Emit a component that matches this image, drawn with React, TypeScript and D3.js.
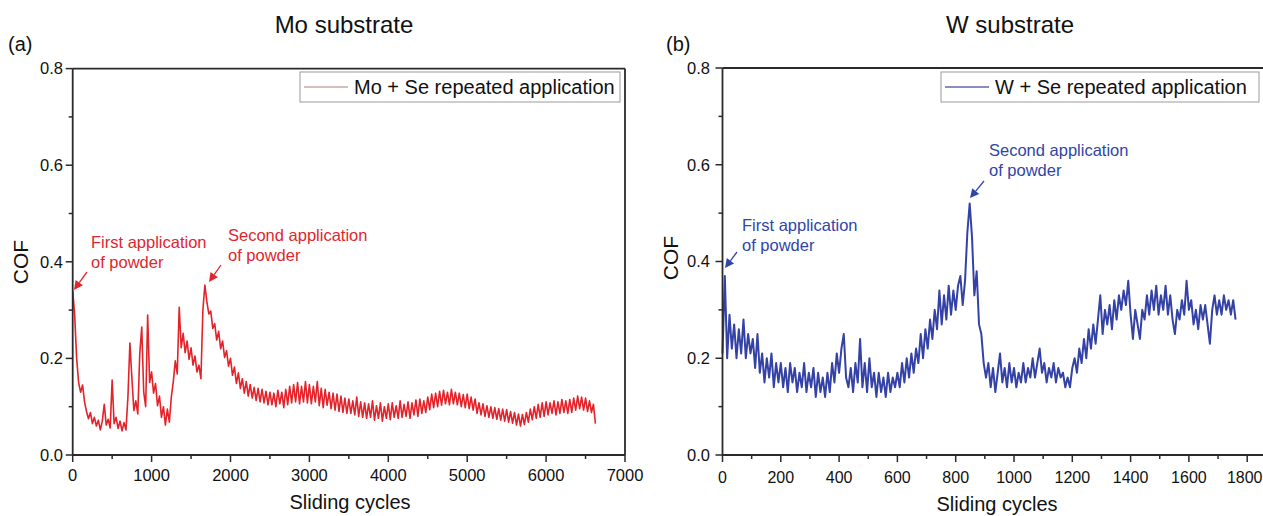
import React from 'react';
import * as d3 from 'd3';

// ---------- data ----------
const moCycleStep = 25; // cycles between samples, Mo substrate
const moCOF = [
  // 0 - 475
  0.34, 0.29, 0.2, 0.15, 0.13, 0.145, 0.11, 0.09, 0.075, 0.088, 0.065, 0.078, 0.06, 0.072, 0.052, 0.07, 0.105, 0.062, 0.074, 0.056,
  // 500 - 975
  0.155, 0.065, 0.078, 0.055, 0.07, 0.05, 0.067, 0.052, 0.12, 0.232, 0.16, 0.092, 0.112, 0.085, 0.21, 0.265, 0.13, 0.1, 0.29, 0.15,
  // 1000 - 1475
  0.172, 0.128, 0.148, 0.102, 0.122, 0.078, 0.1, 0.062, 0.095, 0.068, 0.12, 0.152, 0.195, 0.168, 0.306, 0.222, 0.252, 0.212, 0.236, 0.198,
  // 1500 - 1975
  0.222, 0.186, 0.205, 0.172, 0.186, 0.158, 0.3, 0.352, 0.318, 0.292, 0.298, 0.262, 0.272, 0.238, 0.256, 0.22, 0.236, 0.202, 0.216, 0.184,
  // 2000 - 2475
  0.2, 0.165, 0.182, 0.148, 0.17, 0.138, 0.158, 0.128, 0.152, 0.122, 0.146, 0.118, 0.14, 0.113, 0.138, 0.11, 0.136, 0.108, 0.132, 0.104,
  // 2500 - 2975
  0.13, 0.104, 0.128, 0.1, 0.134, 0.106, 0.13, 0.098, 0.136, 0.104, 0.142, 0.108, 0.146, 0.11, 0.15, 0.106, 0.142, 0.11, 0.152, 0.108,
  // 3000 - 3475
  0.146, 0.106, 0.142, 0.11, 0.152, 0.102, 0.138, 0.098, 0.136, 0.103, 0.13, 0.096, 0.128, 0.093, 0.126, 0.09, 0.122, 0.088, 0.118, 0.086,
  // 3500 - 3975
  0.116, 0.086, 0.112, 0.083, 0.12, 0.08, 0.11, 0.078, 0.108, 0.076, 0.106, 0.078, 0.112, 0.072, 0.102, 0.076, 0.108, 0.07, 0.1, 0.076,
  // 4000 - 4475
  0.106, 0.073, 0.108, 0.078, 0.102, 0.076, 0.112, 0.078, 0.105, 0.08, 0.11, 0.076, 0.108, 0.083, 0.114, 0.08, 0.116, 0.086, 0.112, 0.088,
  // 4500 - 4975
  0.12, 0.094, 0.126, 0.098, 0.128, 0.1, 0.132, 0.103, 0.134, 0.106, 0.13, 0.104, 0.136, 0.106, 0.13, 0.104, 0.128, 0.1, 0.125, 0.098,
  // 5000 - 5475
  0.126, 0.096, 0.12, 0.093, 0.116, 0.086, 0.108, 0.083, 0.106, 0.08, 0.102, 0.078, 0.1, 0.076, 0.098, 0.074, 0.096, 0.072, 0.095, 0.07,
  // 5500 - 5975
  0.094, 0.068, 0.09, 0.066, 0.088, 0.062, 0.085, 0.06, 0.084, 0.063, 0.088, 0.068, 0.095, 0.073, 0.1, 0.076, 0.105, 0.078, 0.108, 0.08,
  // 6000 - 6475
  0.11, 0.083, 0.108, 0.086, 0.112, 0.083, 0.11, 0.086, 0.115, 0.088, 0.112, 0.086, 0.115, 0.088, 0.118, 0.093, 0.122, 0.096, 0.12, 0.093,
  // 6500 - 6625
  0.118, 0.09, 0.112, 0.088, 0.105, 0.065,
];

const wCycleStep = 8; // cycles between samples, W substrate
const wCOF = [
  // 0 - 192
  0.21, 0.37, 0.2, 0.29, 0.22, 0.27, 0.2, 0.26, 0.21, 0.28, 0.2, 0.25, 0.21, 0.24, 0.18, 0.25, 0.17, 0.21, 0.15, 0.2, 0.16, 0.21, 0.14, 0.19, 0.15,
  // 200 - 392
  0.19, 0.14, 0.18, 0.13, 0.19, 0.15, 0.18, 0.13, 0.17, 0.14, 0.19, 0.13, 0.17, 0.14, 0.18, 0.12, 0.17, 0.13, 0.16, 0.12, 0.17, 0.13, 0.19, 0.15, 0.21,
  // 400 - 592
  0.17, 0.22, 0.25, 0.16, 0.14, 0.18, 0.13, 0.19, 0.15, 0.24, 0.14, 0.19, 0.13, 0.2, 0.14, 0.17, 0.12, 0.17, 0.13, 0.16, 0.12, 0.17, 0.13, 0.16, 0.14,
  // 600 - 792
  0.17, 0.14, 0.19, 0.15, 0.2, 0.16, 0.21, 0.17, 0.22, 0.19, 0.25, 0.2, 0.26, 0.22, 0.28, 0.24, 0.3, 0.26, 0.34, 0.27, 0.33, 0.28, 0.35, 0.29, 0.34,
  // 800 - 992
  0.3, 0.35, 0.37, 0.31, 0.36, 0.46, 0.52, 0.45, 0.33, 0.38, 0.27, 0.25, 0.19, 0.16, 0.19, 0.14, 0.18, 0.13, 0.17, 0.21, 0.15, 0.18, 0.14, 0.19, 0.15,
  // 1000 - 1192
  0.18, 0.14, 0.17, 0.15, 0.19, 0.15, 0.18, 0.16, 0.2, 0.16, 0.19, 0.22, 0.17, 0.19, 0.15, 0.18, 0.16, 0.19, 0.15, 0.18, 0.16, 0.17, 0.14, 0.16, 0.14,
  // 1200 - 1392
  0.18, 0.2, 0.17, 0.22, 0.19, 0.24, 0.2, 0.26, 0.22, 0.27, 0.23, 0.28, 0.33, 0.25, 0.3, 0.27, 0.31, 0.26, 0.32, 0.28, 0.33, 0.3, 0.34, 0.31, 0.36,
  // 1400 - 1592
  0.29, 0.24, 0.3, 0.27, 0.24, 0.3, 0.28, 0.33, 0.29, 0.34, 0.3, 0.35, 0.29, 0.33, 0.3, 0.35, 0.29, 0.33, 0.28, 0.25, 0.3, 0.28, 0.32, 0.29, 0.36,
  // 1600 - 1760
  0.3, 0.32, 0.27, 0.3, 0.26, 0.31, 0.28, 0.31, 0.27, 0.23, 0.3, 0.33, 0.29, 0.32, 0.29, 0.33, 0.3, 0.32, 0.29, 0.32, 0.28,
];

const moXTicks = [0, 1000, 2000, 3000, 4000, 5000, 6000, 7000];
const wXTicks = [0, 200, 400, 600, 800, 1000, 1200, 1400, 1600, 1800];
const cofTicks = [0.0, 0.2, 0.4, 0.6, 0.8];
const cofMinor = [0.1, 0.3, 0.5, 0.7];

const FONT = "'Liberation Sans', Arial, Helvetica, sans-serif";
const AXIS = '#2a2a2a';
const W = 1263;

type Note = { lines: string[]; tx: number; ty: number; from: [number, number]; to: [number, number] };

type PanelProps = {
  tag: string;
  tagX: number;
  title: string;
  titleX: number;
  xDomain: [number, number];
  xRange: [number, number];
  yRange: [number, number];
  majorX: number[];
  minorXStep: number;
  values: number[];
  step: number;
  color: string;
  lineWidth: number;
  legendText: string;
  legendColor: string;
  legendBox: [number, number, number, number];
  yLabelEnd: number;
  xLabelBase: number;
  xLabelSize: number;
  xTitleX: number;
  xTitleBase: number;
  cofX: number;
  cofY: number;
  notes: Note[];
  noteColor: string;
};

function Arrow({ from, to, color }: { from: [number, number]; to: [number, number]; color: string }) {
  const dx = to[0] - from[0];
  const dy = to[1] - from[1];
  const len = Math.hypot(dx, dy);
  const ux = dx / len;
  const uy = dy / len;
  const hl = 9;
  const hw = 4.5;
  const bx = to[0] - ux * hl;
  const by = to[1] - uy * hl;
  const p1 = [bx - uy * hw, by + ux * hw];
  const p2 = [bx + uy * hw, by - ux * hw];
  return (
    <g>
      <line x1={from[0]} y1={from[1]} x2={bx} y2={by} stroke={color} strokeWidth={1.3} />
      <polygon points={`${to[0]},${to[1]} ${p1[0]},${p1[1]} ${p2[0]},${p2[1]}`} fill={color} />
    </g>
  );
}

function Panel(p: PanelProps) {
  const x = d3.scaleLinear().domain(p.xDomain).range(p.xRange);
  const y = d3.scaleLinear().domain([0, 0.8]).range(p.yRange);
  const line = d3
    .line<number>()
    .x((_, i) => x(i * p.step))
    .y((d) => y(d));
  const minorX = d3.range(p.xDomain[0] + p.minorXStep, p.xDomain[1], p.minorXStep).filter((v) => !p.majorX.includes(v));
  const [x0, x1] = p.xRange;
  const [yb, yt] = p.yRange;
  const [lx, ly, lw, lh] = p.legendBox;
  const labelX = (t: number) => {
    const half = (String(t).length * 0.556 * p.xLabelSize) / 2;
    return Math.min(x(t), W - half - 0.5);
  };
  return (
    <g fontFamily={FONT}>
      <text x={p.tagX} y={51} fontSize={20} fill="#111">{p.tag}</text>
      <text x={p.titleX} y={33} fontSize={24} fill="#111" textAnchor="middle">{p.title}</text>

      <path d={line(p.values) || ''} fill="none" stroke={p.color} strokeWidth={p.lineWidth} strokeLinejoin="round" />

      {/* frame */}
      <line x1={x0} y1={yt} x2={x1} y2={yt} stroke={AXIS} strokeWidth={1.8} />
      <line x1={x1} y1={yt} x2={x1} y2={yb} stroke={AXIS} strokeWidth={1.8} />
      <line x1={x0} y1={yt} x2={x0} y2={yb} stroke={AXIS} strokeWidth={1.8} />
      <line x1={x0} y1={yb} x2={x1} y2={yb} stroke={AXIS} strokeWidth={1.8} />

      {/* y ticks */}
      {cofTicks.map((t) => (
        <g key={'y' + t}>
          <line x1={x0 - 7} x2={x0} y1={y(t)} y2={y(t)} stroke={AXIS} strokeWidth={1.5} />
          <text x={p.yLabelEnd} y={y(t) + 5.8} fontSize={16.5} textAnchor="end" fill="#111">{t.toFixed(1)}</text>
        </g>
      ))}
      {cofMinor.map((t) => (
        <line key={'ym' + t} x1={x0 - 4} x2={x0} y1={y(t)} y2={y(t)} stroke={AXIS} strokeWidth={1.5} />
      ))}

      {/* x ticks */}
      {p.majorX.map((t) => (
        <g key={'x' + t}>
          <line x1={x(t)} x2={x(t)} y1={yb} y2={yb + 7} stroke={AXIS} strokeWidth={1.5} />
          <text x={labelX(t)} y={p.xLabelBase} fontSize={p.xLabelSize} textAnchor="middle" fill="#111">{t}</text>
        </g>
      ))}
      {minorX.map((t) => (
        <line key={'xm' + t} x1={x(t)} x2={x(t)} y1={yb} y2={yb + 4} stroke={AXIS} strokeWidth={1.5} />
      ))}

      <text
        transform={`translate(${p.cofX},${p.cofY}) rotate(-90)`}
        fontSize={21}
        textAnchor="middle"
        fill="#111"
      >
        COF
      </text>
      <text x={p.xTitleX} y={p.xTitleBase} fontSize={20} textAnchor="middle" fill="#111">
        Sliding cycles
      </text>

      {/* legend */}
      <rect x={lx} y={ly} width={lw} height={lh} fill="#fff" stroke="#9a9a9a" strokeWidth={1} />
      <line x1={lx + 4} x2={lx + 48} y1={ly + lh / 2} y2={ly + lh / 2} stroke={p.legendColor} strokeWidth={1.3} />
      <text x={lx + 54} y={ly + lh / 2 + 7} fontSize={20} fill="#111">{p.legendText}</text>

      {/* annotations */}
      {p.notes.map((n, i) => (
        <g key={'n' + i}>
          {n.lines.map((s, j) => (
            <text key={j} x={n.tx} y={n.ty + j * 20} fontSize={16.5} fill={p.noteColor}>{s}</text>
          ))}
          <Arrow from={n.from} to={n.to} color={p.noteColor} />
        </g>
      ))}
    </g>
  );
}

export default function App() {
  return (
    <svg
      width={W}
      height={516}
      viewBox={`0 0 ${W} 516`}
      style={{ position: 'absolute', left: 0, top: 0, background: '#fff' }}
    >
      <rect x={0} y={0} width={W} height={516} fill="#fff" />
      <Panel
        tag="(a)"
        tagX={8}
        title="Mo substrate"
        titleX={344}
        xDomain={[0, 7000]}
        xRange={[72.7, 625]}
        yRange={[455, 68.6]}
        majorX={moXTicks}
        minorXStep={500}
        values={moCOF}
        step={moCycleStep}
        color="#e4222a"
        lineWidth={1.6}
        legendText="Mo + Se repeated application"
        legendColor="#c9a9aa"
        legendBox={[300, 72, 320, 30]}
        yLabelEnd={63}
        xLabelBase={481}
        xLabelSize={16.5}
        xTitleX={350}
        xTitleBase={509}
        cofX={28}
        cofY={262}
        noteColor="#e0262e"
        notes={[
          { lines: ['First application', 'of powder'], tx: 91, ty: 248, from: [87, 272], to: [74, 290] },
          { lines: ['Second application', 'of powder'], tx: 228, ty: 241, from: [221, 265], to: [209, 282] },
        ]}
      />
      <Panel
        tag="(b)"
        tagX={666}
        title="W substrate"
        titleX={1010}
        xDomain={[0, 1900]}
        xRange={[722.5, 722.5 + 1900 * 0.2915]}
        yRange={[455, 68]}
        majorX={wXTicks}
        minorXStep={100}
        values={wCOF}
        step={wCycleStep}
        color="#3442a6"
        lineWidth={2}
        legendText="W + Se repeated application"
        legendColor="#5e68a8"
        legendBox={[941, 72, 318, 30]}
        yLabelEnd={710}
        xLabelBase={483}
        xLabelSize={16}
        xTitleX={997}
        xTitleBase={511}
        cofX={678}
        cofY={258}
        noteColor="#2f45a8"
        notes={[
          { lines: ['First application', 'of powder'], tx: 742, ty: 231, from: [737, 252], to: [725, 268] },
          { lines: ['Second application', 'of powder'], tx: 989, ty: 156, from: [984, 181], to: [970, 198] },
        ]}
      />
    </svg>
  );
}
